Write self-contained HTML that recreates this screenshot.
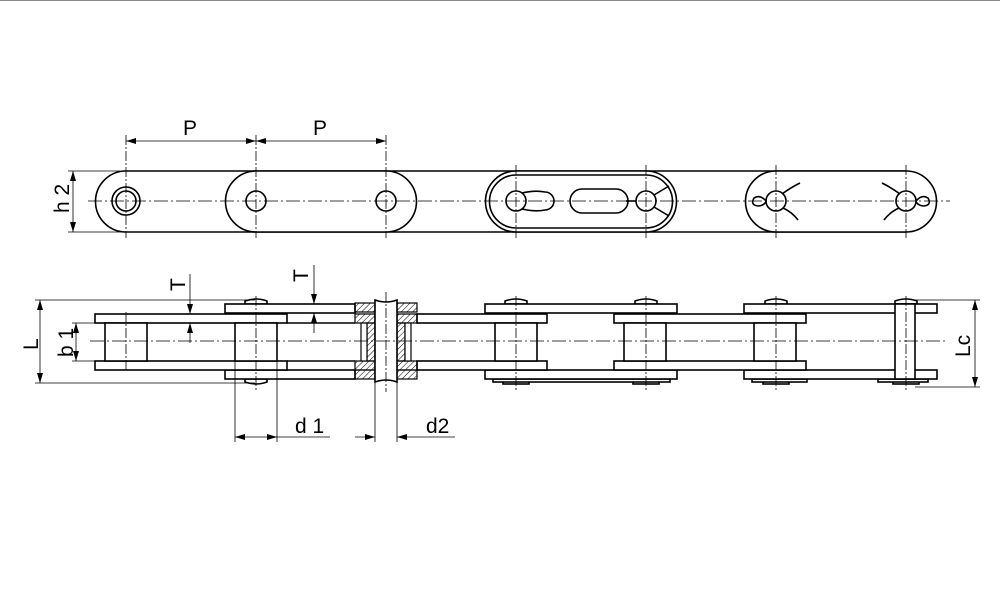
<!DOCTYPE html>
<html><head><meta charset="utf-8"><style>html,body{margin:0;padding:0;background:#fff}svg{display:block}</style></head><body>
<svg width="1000" height="600" viewBox="0 0 1000 600" xmlns="http://www.w3.org/2000/svg" font-family="Liberation Sans, sans-serif">
<defs>
<pattern id="h" width="4" height="4" patternUnits="userSpaceOnUse" patternTransform="rotate(45)"><line x1="0" y1="0" x2="0" y2="4" stroke="#000" stroke-width="1"/></pattern>
<marker id="a" viewBox="0 0 10 6" refX="10" refY="3" markerWidth="10" markerHeight="6" orient="auto-start-reverse" markerUnits="userSpaceOnUse"><path d="M0,0L10,3L0,6z" fill="#000"/></marker>
</defs>
<line x1="0" y1="0.5" x2="1000" y2="0.5" stroke="#888"/>
<g fill="none" stroke="#000" stroke-width="1.6">
<line x1="126" y1="171" x2="906" y2="171"/>
<line x1="126" y1="232" x2="906" y2="232"/>
<path d="M126,171 A30.5,30.5 0 0 0 126,232" fill="#fff"/>
<path d="M256,171 L386,171 A30.5,30.5 0 0 1 386,232 L256,232 A30.5,30.5 0 0 1 256,171z" fill="#fff"/>
<circle cx="126" cy="201" r="14"/><circle cx="126" cy="201" r="10"/>
<circle cx="256" cy="201" r="10"/><circle cx="386" cy="201" r="10"/>
<path d="M516,171 L646,171 A30.5,30.5 0 0 1 646,232 L516,232 A30.5,30.5 0 0 1 516,171z" fill="#fff"/>
<path d="M516,175 L646,175 A26.5,26.5 0 0 1 646,228 L516,228 A26.5,26.5 0 0 1 516,175z"/>
<circle cx="516" cy="201" r="10"/>
<path d="M522,193 Q535,190 545,192 A9,9 0 0 1 545,210 Q535,212 522,209"/>
<path d="M582,189 L616,189 A12,12 0 0 1 616,213 L582,213 A12,12 0 0 1 582,189z"/>
<circle cx="646" cy="201" r="10"/><line x1="626" y1="201" x2="636" y2="201"/>
<path d="M654,195 L669,186 M654,207 L669,216"/>
<path d="M776,171 L906,171 A30.5,30.5 0 0 1 906,232 L776,232 A30.5,30.5 0 0 1 776,171z" fill="#fff"/>
<circle cx="776" cy="201" r="10"/><circle cx="906" cy="201" r="10"/>
<path d="M766,201 Q760,194 754,198 Q750,205 758,206 Q763,206 766,202"/>
<path d="M916,201 Q922,194 928,198 Q932,205 924,206 Q919,206 916,202"/>
<path d="M782,194 Q790,188 800,183 M783,208 Q792,212 798,220"/>
<path d="M900,194 Q892,188 882,183 M899,208 Q890,212 884,220"/>
</g>
<g stroke="#000" stroke-width="0.8" fill="none">
<line x1="88" y1="201" x2="950" y2="201" stroke-dasharray="14,3,2,3"/>
<path d="M126,135V238 M256,135V238 M386,135V238 M516,165V238 M646,165V238 M776,165V238 M906,165V238" stroke-dasharray="10,2,2,2"/>
<line x1="126" y1="141" x2="256" y2="141" marker-start="url(#a)" marker-end="url(#a)"/>
<line x1="256" y1="141" x2="386" y2="141" marker-start="url(#a)" marker-end="url(#a)"/>
<path d="M68,171H126 M68,232H126"/>
<line x1="73" y1="171" x2="73" y2="232" marker-start="url(#a)" marker-end="url(#a)"/>
</g>
<g font-size="21"><text x="183" y="135">P</text><text x="313" y="135">P</text>
<text transform="translate(69,213) rotate(-90)">h 2</text></g>

<g fill="#fff" stroke="#000" stroke-width="1.6">
<path d="M245,304v-3q11,-4 22,0v3z M245,379v3q11,4 22,0v-3z"/>
<path d="M505,304v-3q11,-4 22,0v3z M635,304v-3q11,-4 22,0v3z M765,304v-3q11,-4 22,0v3z M895,304v-3q11,-4 22,0v3z"/>
<rect x="503" y="379" width="26" height="5"/><rect x="633" y="379" width="26" height="5"/><rect x="763" y="379" width="26" height="5"/><rect x="893" y="379" width="26" height="5"/>
<rect x="493" y="379" width="177" height="3"/><rect x="752" y="379" width="55" height="3"/><rect x="878" y="379" width="50" height="3"/>
<rect x="225" y="304" width="130" height="9"/><rect x="225" y="370" width="130" height="9"/>
<rect x="485" y="304" width="192" height="9"/><rect x="485" y="370" width="192" height="9"/>
<rect x="744" y="304" width="193" height="9"/><rect x="744" y="370" width="193" height="9"/>
<rect x="95" y="314" width="192" height="9"/><rect x="95" y="361" width="192" height="9"/>
<rect x="417" y="314" width="130" height="9"/><rect x="417" y="361" width="130" height="9"/>
<rect x="614" y="314" width="192" height="9"/><rect x="614" y="361" width="192" height="9"/>
<rect x="105" y="323" width="42" height="38"/><rect x="235" y="323" width="42" height="38"/>
<rect x="495" y="323" width="42" height="38"/><rect x="624" y="323" width="42" height="38"/><rect x="754" y="323" width="42" height="38"/>
<rect x="895" y="304" width="20" height="75"/>
<line x1="287" y1="323" x2="355" y2="323"/><line x1="287" y1="361" x2="355" y2="361"/>
</g>
<g stroke="#000" stroke-width="1.2" fill="url(#h)">
<rect x="355" y="303" width="20" height="9"/><rect x="397" y="303" width="20" height="9"/>
<rect x="355" y="370" width="20" height="9"/><rect x="397" y="370" width="20" height="9"/>
<rect x="355" y="314" width="20" height="9"/><rect x="397" y="314" width="20" height="9"/>
<rect x="355" y="361" width="20" height="9"/><rect x="397" y="361" width="20" height="9"/>
<rect x="367" y="323" width="8" height="38"/><rect x="397" y="323" width="8" height="38"/>
<rect x="361" y="323" width="6" height="38" fill="#fff"/><rect x="405" y="323" width="6" height="38" fill="#fff"/>
</g>
<path d="M375,300q11,4 22,0v82q-11,-4 -22,0z" fill="#fff" stroke="#000" stroke-width="1.6"/>
<g stroke="#000" stroke-width="0.8" fill="none">
<line x1="90" y1="341" x2="945" y2="341" stroke-dasharray="14,3,2,3"/>
<path d="M126,312V372 M256,296V392 M386,292V392 M516,296V392 M646,296V392 M776,296V392 M906,296V392" stroke-dasharray="10,2,2,2"/>
<path d="M35,300H255 M35,383H255"/>
<line x1="40" y1="300" x2="40" y2="383" marker-start="url(#a)" marker-end="url(#a)"/>
<path d="M72,323H105 M72,361H105"/>
<line x1="76" y1="323" x2="76" y2="361" marker-start="url(#a)" marker-end="url(#a)"/>
<line x1="190" y1="274" x2="190" y2="314" marker-end="url(#a)"/><line x1="190" y1="343" x2="190" y2="323" marker-end="url(#a)"/>
<line x1="314" y1="265" x2="314" y2="304" marker-end="url(#a)"/><line x1="314" y1="333" x2="314" y2="313" marker-end="url(#a)"/>
<path d="M235,361V442 M277,361V442 M375,382V442 M397,382V442"/>
<line x1="235" y1="437" x2="277" y2="437" marker-start="url(#a)" marker-end="url(#a)"/>
<line x1="277" y1="437" x2="330" y2="437"/>
<line x1="355" y1="437" x2="375" y2="437" marker-end="url(#a)"/>
<line x1="420" y1="437" x2="397" y2="437" marker-end="url(#a)"/>
<line x1="420" y1="437" x2="455" y2="437"/>
<path d="M915,300H980 M915,387H980"/>
<line x1="975" y1="300" x2="975" y2="387" marker-start="url(#a)" marker-end="url(#a)"/>
</g>
<g font-size="21">
<text transform="translate(38,350) rotate(-90)">L</text>
<text transform="translate(73,357) rotate(-90)">b 1</text>
<text transform="translate(185,291) rotate(-90)">T</text>
<text transform="translate(308,282) rotate(-90)">T</text>
<text x="295" y="433">d  1</text>
<text x="426" y="433">d2</text>
<text transform="translate(970,357) rotate(-90)">Lc</text>
</g>
</svg>
</body></html>
